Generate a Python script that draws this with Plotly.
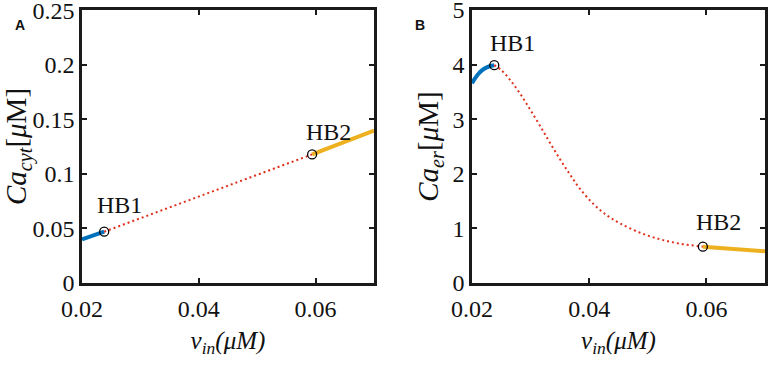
import plotly.graph_objects as go

# ---- Panel A data ----
a_blue_x = [0.0200, 0.0238]
a_blue_y = [0.0400, 0.0470]
a_dot_x = [0.0238, 0.0594]
a_dot_y = [0.0470, 0.1178]
a_orange_x = [0.0594, 0.0700]
a_orange_y = [0.1178, 0.1395]
a_hb_x = [0.0238, 0.0594]
a_hb_y = [0.0470, 0.1178]

# ---- Panel B data ----
b_blue_x = [0.0200, 0.0210, 0.0220, 0.0230, 0.0238]
b_blue_y = [3.66, 3.82, 3.92, 3.97, 3.99]
b_dot_x = [0.0238, 0.0250, 0.0265, 0.0282, 0.0299, 0.0316, 0.0333, 0.0350, 0.0367,
           0.0384, 0.0407, 0.0430, 0.0453, 0.0487, 0.0521, 0.0555, 0.0594]
b_dot_y = [3.99, 3.90, 3.72, 3.47, 3.18, 2.88, 2.57, 2.27, 1.99,
           1.73, 1.45, 1.24, 1.09, 0.92, 0.80, 0.72, 0.665]
b_orange_x = [0.0594, 0.0650, 0.0700]
b_orange_y = [0.665, 0.620, 0.580]
b_hb_x = [0.0238, 0.0594]
b_hb_y = [3.99, 0.665]

hb_labels = ["HB1", "HB2"]
x_ticks = [0.02, 0.04, 0.06]
x_ticklabels = ["0.02", "0.04", "0.06"]
a_y_ticks = [0, 0.05, 0.1, 0.15, 0.2, 0.25]
a_y_ticklabels = ["0", "0.05", "0.1", "0.15", "0.2", "0.25"]
b_y_ticks = [0, 1, 2, 3, 4, 5]
b_y_ticklabels = ["0", "1", "2", "3", "4", "5"]

BLUE = "#0072BD"
ORANGE = "#EDB120"
RED = "#E0301E"
SERIF = "Liberation Serif, Times New Roman, serif"

fig = go.Figure()

def add_panel(xa, ya, bx, by, dx, dy, ox, oy, hx, hy):
    fig.add_trace(go.Scatter(x=bx, y=by, mode="lines", line=dict(color=BLUE, width=4, shape="spline"),
                             xaxis=xa, yaxis=ya, showlegend=False, hoverinfo="skip"))
    fig.add_trace(go.Scatter(x=dx, y=dy, mode="lines", line=dict(color=RED, width=2, dash="2px,3px", shape="spline"),
                             xaxis=xa, yaxis=ya, showlegend=False, hoverinfo="skip"))
    fig.add_trace(go.Scatter(x=ox, y=oy, mode="lines", line=dict(color=ORANGE, width=4),
                             xaxis=xa, yaxis=ya, showlegend=False, hoverinfo="skip"))
    fig.add_trace(go.Scatter(x=hx, y=hy, mode="markers",
                             marker=dict(symbol="circle-open", size=9, color="black", line=dict(width=1.3)),
                             xaxis=xa, yaxis=ya, showlegend=False, hoverinfo="skip"))

add_panel("x", "y", a_blue_x, a_blue_y, a_dot_x, a_dot_y, a_orange_x, a_orange_y, a_hb_x, a_hb_y)
add_panel("x2", "y2", b_blue_x, b_blue_y, b_dot_x, b_dot_y, b_orange_x, b_orange_y, b_hb_x, b_hb_y)

axis_common = dict(showline=True, linecolor="#1a1a1a", linewidth=2.5, mirror="ticks",
                   ticks="inside", ticklen=5, tickwidth=2, tickcolor="#1a1a1a",
                   showgrid=False, zeroline=False, automargin=False,
                   ticklabeloverflow="allow",
                   tickfont=dict(family=SERIF, size=24, color="#111"))

ydom = [1 - 283 / 365, 1 - 10 / 365]
xtitle = "<i>v</i><sub><i>in</i></sub><i>(μM)</i>"
fig.update_layout(
    width=768, height=365, margin=dict(l=0, r=0, t=0, b=0),
    paper_bgcolor="white", plot_bgcolor="white",
    xaxis=dict(domain=[82 / 768, 374 / 768], range=[0.02, 0.07], tickvals=x_ticks,
               ticktext=x_ticklabels, ticklabelstandoff=2,
               title=dict(text=xtitle, font=dict(family=SERIF, size=25, color="#111"), standoff=11),
               anchor="y", **axis_common),
    yaxis=dict(domain=ydom, range=[0, 0.2501], tickvals=a_y_ticks, ticktext=a_y_ticklabels,
               title=dict(text="<i>Ca</i><sub><i>cyt</i></sub>[<i>μ</i>M]", font=dict(family=SERIF, size=29, color="#111"), standoff=9),
               anchor="x", **axis_common),
    xaxis2=dict(domain=[472 / 768, 765 / 768], range=[0.02, 0.07], tickvals=x_ticks,
                ticktext=x_ticklabels, ticklabelstandoff=2,
                title=dict(text=xtitle, font=dict(family=SERIF, size=25, color="#111"), standoff=11),
                anchor="y2", **axis_common),
    yaxis2=dict(domain=ydom, range=[0, 5.0005], tickvals=b_y_ticks, ticktext=b_y_ticklabels,
                title=dict(text="<i>Ca</i><sub><i>er</i></sub>[<i>μ</i>M]", font=dict(family=SERIF, size=29, color="#111"), standoff=6),
                anchor="x2", **axis_common),
)

# HB labels
for xref, yref, hx, hy, offs in [("x", "y", a_hb_x, a_hb_y, [(15, -27), (16, -22)]),
                                 ("x2", "y2", b_hb_x, b_hb_y, [(18, -22), (16, -25)])]:
    for i in range(2):
        fig.add_annotation(x=hx[i], y=hy[i], xref=xref, yref=yref, text=hb_labels[i],
                           showarrow=False, xshift=offs[i][0], yshift=-offs[i][1],
                           font=dict(family=SERIF, size=24, color="#111"))

# panel letters
fig.add_annotation(x=13 / 768, y=1 - 15 / 365, xref="paper", yref="paper", text="<b>A</b>",
                   showarrow=False, font=dict(family="Liberation Sans, Arial, sans-serif", size=14, color="#111"))
fig.add_annotation(x=420 / 768, y=1 - 15 / 365, xref="paper", yref="paper", text="<b>B</b>",
                   showarrow=False, font=dict(family="Liberation Sans, Arial, sans-serif", size=14, color="#111"))

fig.write_html("out.html", config={"displayModeBar": False},
               post_script="document.body.style.margin='0';document.body.style.padding='0';")
